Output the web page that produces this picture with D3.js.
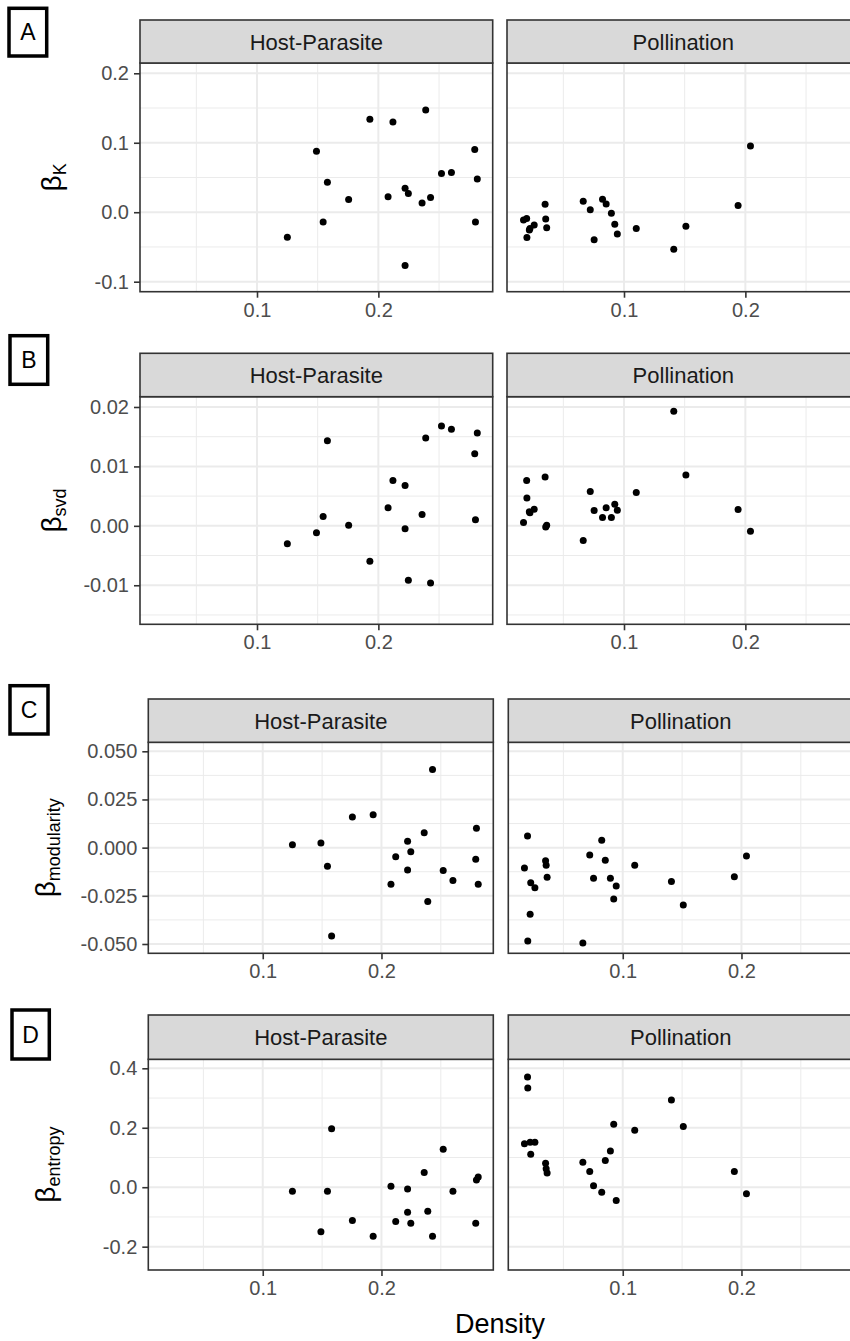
<!DOCTYPE html>
<html><head><meta charset="utf-8">
<script src="https://cdn.jsdelivr.net/npm/d3@7"></script>
<style>
html,body{margin:0;padding:0;background:#fff;}
svg{display:block;font-family:"Liberation Sans",Arial,sans-serif;}
</style></head>
<body>
<svg id="chart" width="850" height="1341"></svg>
<script>
// ---------------- DATA ----------------
const facets = ["Host-Parasite", "Pollination"];
const panelLabels = ["A", "B", "C", "D"];
const yTitleSubs = ["K", "svd", "modularity", "entropy"];
const xTitle = "Density";
const xTicks = [0.1, 0.2];
const xTickLabels = ["0.1", "0.2"];

const hostDensity = [0.125, 0.149, 0.158, 0.1545, 0.1755, 0.193, 0.212, 0.208, 0.222, 0.2247, 0.222, 0.236, 0.239, 0.243, 0.252, 0.2602, 0.2794, 0.2815, 0.280];
const pollDensity = [0.0172, 0.0198, 0.0200, 0.0220, 0.0225, 0.0260, 0.0350, 0.0355, 0.0363, 0.0664, 0.0722, 0.0754, 0.0823, 0.0853, 0.0896, 0.0924, 0.0945, 0.1101, 0.141, 0.151, 0.194, 0.2042];

const hostBetaK = [-0.036, 0.0878, 0.0432, -0.0139, 0.0182, 0.1338, 0.130, 0.0221, 0.0345, 0.0269, -0.0767, 0.0134, 0.1472, 0.0211, 0.0556, 0.0571, 0.0902, 0.048, -0.0139];
const pollBetaK = [-0.0111, -0.0092, -0.0365, -0.0255, -0.0235, -0.0183, 0.0115, -0.0096, -0.0222, 0.0158, 0.0034, -0.0398, 0.0187, 0.012, -0.0014, -0.0173, -0.0312, -0.0235, -0.0532, -0.0201, 0.0096, 0.0954];

const hostBetaSvd = [-0.00303, -0.00118, 0.01433, 0.00157, 0.0001, -0.00596, 0.00764, 0.00303, 0.0068, -0.00916, -0.0005, 0.0019, 0.01478, -0.0096, 0.0168, 0.01624, 0.01213, 0.01562, 0.00101];
const pollBetaSvd = [0.00057, 0.00764, 0.0047, 0.00236, 0.0022, 0.0028, 0.0082, -0.0002, 0.0001, -0.00247, 0.00579, 0.00258, 0.0014, 0.00303, 0.0014, 0.00365, 0.00264, 0.00562, 0.01927, 0.00854, 0.00275, -0.0009];

const hostBetaMod = [0.00156, 0.00242, -0.0458, -0.00969, 0.0159, 0.0171, -0.00467, -0.019, 0.00329, -0.00208, -0.0116, 0.00779, -0.028, 0.0405, -0.0119, -0.0171, -0.00606, -0.019, 0.01003];
const pollBetaMod = [-0.01055, 0.00606, -0.0484, -0.0346, -0.0182, -0.0208, -0.00675, -0.00917, -0.0154, -0.0495, -0.0038, -0.0159, 0.0038, -0.00657, -0.0159, -0.0266, -0.0199, -0.00917, -0.0176, -0.0298, -0.0151, -0.00433];

const hostBetaEnt = [-0.0134, -0.150, 0.197, -0.0134, -0.112, -0.165, -0.115, 0.0034, -0.0056, -0.121, -0.084, 0.0493, -0.0807, -0.165, 0.1277, -0.0134, -0.121, 0.0347, 0.0246];
const pollBetaEnt = [0.146, 0.371, 0.334, 0.1515, 0.111, 0.1515, 0.081, 0.062, 0.048, 0.084, 0.0527, 0.0045, -0.0168, 0.0896, 0.122, 0.212, -0.0448, 0.1916, 0.2936, 0.204, 0.0527, -0.0224];

const yTicksK = [-0.1, 0.0, 0.1, 0.2];
const yTickLabelsK = ["-0.1", "0.0", "0.1", "0.2"];
const yTicksSvd = [-0.01, 0.0, 0.01, 0.02];
const yTickLabelsSvd = ["-0.01", "0.00", "0.01", "0.02"];
const yTicksMod = [-0.05, -0.025, 0.0, 0.025, 0.05];
const yTickLabelsMod = ["-0.050", "-0.025", "0.000", "0.025", "0.050"];
const yTicksEnt = [-0.2, 0.0, 0.2, 0.4];
const yTickLabelsEnt = ["-0.2", "0.0", "0.2", "0.4"];

// ---------------- LAYOUT ----------------
const xDomain = [0.0036, 0.2942];
const rows = [
  {host: hostBetaK, poll: pollBetaK, ticks: yTicksK, labels: yTickLabelsK, domain: [-0.1144, 0.2148],
   stripTop: 20, plotTop: 63, plotBottom: 291.7, left: 140, width: 352.7, pollLeft: 507,
   box: [9, 8.3, 37.7, 47.7], titleX: 61},
  {host: hostBetaSvd, poll: pollBetaSvd, ticks: yTicksSvd, labels: yTickLabelsSvd, domain: [-0.01657, 0.02173],
   stripTop: 353.3, plotTop: 396.7, plotBottom: 624.3, left: 140, width: 352.7, pollLeft: 507,
   box: [10, 335.7, 37.7, 48.6], titleX: 61},
  {host: hostBetaMod, poll: pollBetaMod, ticks: yTicksMod, labels: yTickLabelsMod, domain: [-0.05483, 0.05467],
   stripTop: 699, plotTop: 742.3, plotBottom: 953.3, left: 148.3, width: 345, pollLeft: 508.3,
   box: [10, 685.7, 38, 48.3], titleX: 55},
  {host: hostBetaEnt, poll: pollBetaEnt, ticks: yTicksEnt, labels: yTickLabelsEnt, domain: [-0.2785, 0.4303],
   stripTop: 1015, plotTop: 1059.3, plotBottom: 1270, left: 148.3, width: 345, pollLeft: 508.3,
   box: [12, 1010, 37.3, 49], titleX: 55}
];

const svg = d3.select("#chart");
const gridCol = "#EBEBEB", borderCol = "#333333", axisTextCol = "#4D4D4D";

function minorTicks(ticks, domain) {
  const step = ticks[1] - ticks[0];
  const out = [];
  for (let v = ticks[0] - step / 2; v <= domain[1] + 1e-9; v += step) {
    if (v >= domain[0] && v <= domain[1]) out.push(v);
  }
  return out;
}
const xMinor = minorTicks([0.0, 0.1, 0.2], xDomain);

rows.forEach((row, ri) => {
  const y = d3.scaleLinear().domain(row.domain).range([row.plotBottom, row.plotTop]);
  const yMinor = minorTicks(row.ticks, row.domain);
  const lefts = [row.left, row.pollLeft];

  lefts.forEach((L, fi) => {
    const x = d3.scaleLinear().domain(xDomain).range([L, L + row.width]);
    const g = svg.append("g");
    const ph = row.plotBottom - row.plotTop;
    g.append("rect").attr("x", L).attr("y", row.plotTop).attr("width", row.width).attr("height", ph).attr("fill", "#fff");
    g.selectAll(".ymin").data(yMinor).enter().append("line")
      .attr("x1", L).attr("x2", L + row.width).attr("y1", d => y(d)).attr("y2", d => y(d))
      .attr("stroke", gridCol).attr("stroke-width", 1);
    g.selectAll(".xmin").data(xMinor).enter().append("line")
      .attr("y1", row.plotTop).attr("y2", row.plotBottom).attr("x1", d => x(d)).attr("x2", d => x(d))
      .attr("stroke", gridCol).attr("stroke-width", 1);
    g.selectAll(".ymaj").data(row.ticks).enter().append("line")
      .attr("x1", L).attr("x2", L + row.width).attr("y1", d => y(d)).attr("y2", d => y(d))
      .attr("stroke", gridCol).attr("stroke-width", 2);
    g.selectAll(".xmaj").data(xTicks).enter().append("line")
      .attr("y1", row.plotTop).attr("y2", row.plotBottom).attr("x1", d => x(d)).attr("x2", d => x(d))
      .attr("stroke", gridCol).attr("stroke-width", 2);
    const xs = fi === 0 ? hostDensity : pollDensity;
    const ys = fi === 0 ? row.host : row.poll;
    g.selectAll("circle").data(xs.map((d, i) => [d, ys[i]])).enter().append("circle")
      .attr("cx", d => x(d[0])).attr("cy", d => y(d[1])).attr("r", 3.5).attr("fill", "#000");
    g.append("rect").attr("x", L).attr("y", row.plotTop).attr("width", row.width).attr("height", ph)
      .attr("fill", "none").attr("stroke", borderCol).attr("stroke-width", 1.6);
    g.append("rect").attr("x", L).attr("y", row.stripTop).attr("width", row.width).attr("height", row.plotTop - row.stripTop)
      .attr("fill", "#D9D9D9").attr("stroke", borderCol).attr("stroke-width", 1.6);
    g.append("text").attr("x", L + row.width / 2).attr("y", (row.stripTop + row.plotTop) / 2 + 8)
      .attr("text-anchor", "middle").attr("font-size", 22).attr("fill", "#1A1A1A").text(facets[fi]);
    const xa = g.append("g").attr("transform", `translate(0,${row.plotBottom})`)
      .call(d3.axisBottom(x).tickValues(xTicks).tickFormat((d, i) => xTickLabels[i]).tickSize(6).tickPadding(5));
    xa.select(".domain").remove();
    xa.selectAll("line").attr("stroke", borderCol).attr("stroke-width", 1.6);
    xa.selectAll("text").attr("font-size", 20).attr("fill", axisTextCol).attr("font-family", "Liberation Sans, Arial, sans-serif");
    if (fi === 0) {
      const ya = g.append("g").attr("transform", `translate(${L},0)`)
        .call(d3.axisLeft(y).tickValues(row.ticks).tickFormat((d, i) => row.labels[i]).tickSize(6).tickPadding(5));
      ya.select(".domain").remove();
      ya.selectAll("line").attr("stroke", borderCol).attr("stroke-width", 1.6);
      ya.selectAll("text").attr("font-size", 20).attr("fill", axisTextCol).attr("font-family", "Liberation Sans, Arial, sans-serif");
    }
  });

  const cy = (row.plotTop + row.plotBottom) / 2;
  const t = svg.append("text").attr("transform", `translate(${row.titleX},${cy}) rotate(-90)`)
    .attr("text-anchor", "middle").attr("fill", "#000");
  t.append("tspan").attr("font-size", 28).text("β");
  t.append("tspan").attr("font-size", 18).attr("dy", 5).text(yTitleSubs[ri]);

  const [bx, by, bw, bh] = row.box;
  svg.append("rect").attr("x", bx).attr("y", by).attr("width", bw).attr("height", bh)
    .attr("fill", "#fff").attr("stroke", "#000").attr("stroke-width", 3.5);
  svg.append("text").attr("x", bx + bw / 2).attr("y", by + bh / 2 + 8).attr("text-anchor", "middle")
    .attr("font-size", 23).attr("fill", "#000").text(panelLabels[ri]);
});

svg.append("text").attr("x", 500).attr("y", 1333).attr("text-anchor", "middle")
  .attr("font-size", 27).attr("fill", "#000").text(xTitle);
</script>
</body></html>
